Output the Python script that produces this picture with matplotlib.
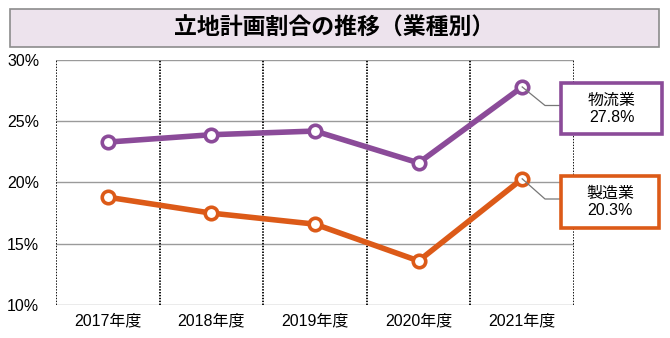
import matplotlib.pyplot as plt
from matplotlib.patches import Rectangle

plt.rcParams['font.family'] = ['Liberation Sans', 'Noto Sans CJK JP']

years = ['2017年度', '2018年度', '2019年度', '2020年度', '2021年度']
logistics = [23.3, 23.9, 24.2, 21.6, 27.8]
manufacturing = [18.8, 17.5, 16.6, 13.6, 20.3]
series_names = ['物流業', '製造業']
y_ticks = [10, 15, 20, 25, 30]

purple = '#8b4b99'
orange = '#dc5a18'

W, H = 670, 338
fig = plt.figure(figsize=(6.7, 3.38), dpi=100)
ax = fig.add_axes([56 / W, 1 - 305 / H, (574 - 56) / W, (305 - 60) / H])

x = list(range(len(years)))
ax.set_xlim(-0.5, len(years) - 0.5)
ax.set_ylim(10, 30)

# grid
for v in y_ticks:
    ax.axhline(v, color='#9a9a9a', lw=1, zorder=1)
for i in range(len(years) + 1):
    ax.axvline(i - 0.5, color='black', lw=1.3, ls=(0, (0.8, 0.8)), zorder=1)

for vals, c in [(logistics, purple), (manufacturing, orange)]:
    ax.plot(x, vals, color=c, lw=4, marker='o', ms=9, mfc='white',
            mec=c, mew=2.6, zorder=3, clip_on=False)

ax.set_yticks(y_ticks)
ax.set_yticklabels([f'{v}%' for v in y_ticks], fontsize=11.5)
ax.set_xticks(x)
ax.set_xticklabels(years, fontsize=11.5)
ax.tick_params(axis='x', length=0, pad=6)
ax.tick_params(axis='y', length=0, pad=12)
for s in ax.spines.values():
    s.set_visible(False)

# title banner
fig.patches.append(Rectangle((10 / W, 1 - 47 / H), 649 / W, 38 / H,
                             transform=fig.transFigure, facecolor='#ede3ed',
                             edgecolor='#8c8c8c', lw=1.2))
fig.text(334.5 / W, 1 - 28 / H, '立地計画割合の推移（業種別）', ha='center', va='center',
         fontsize=16.5, fontweight='bold', family=['Noto Sans CJK JP'])

# labelled boxes (figure pixel positions)
boxes = [(561, 83, 101, 51), (561, 176, 98, 52)]
last = [logistics[-1], manufacturing[-1]]
for (bx, by, bw, bh), name, val, c in zip(boxes, series_names, last,
                                          [purple, orange]):
    fig.patches.append(Rectangle((bx / W, 1 - (by + bh) / H), bw / W, bh / H,
                                 transform=fig.transFigure, facecolor='white',
                                 edgecolor=c, lw=2.6, zorder=5))
    fig.text((bx + bw / 2) / W, 1 - (by + bh / 2) / H, f'{name}\n{val}%',
             ha='center', va='center', fontsize=11.5, linespacing=1.2, zorder=6)
    # leader line
    ymid = by + bh / 2 - 3
    px, py = ax.transData.transform((x[-1], val))
    pts = [(px, py), (545, H - ymid), (bx, H - ymid)]
    xs = [p[0] / W for p in pts]
    ys = [p[1] / H for p in pts]
    fig.lines.append(plt.Line2D(xs, ys, transform=fig.transFigure,
                                color='#777777', lw=0.9, zorder=2))

fig.savefig('out.png', dpi=100)
